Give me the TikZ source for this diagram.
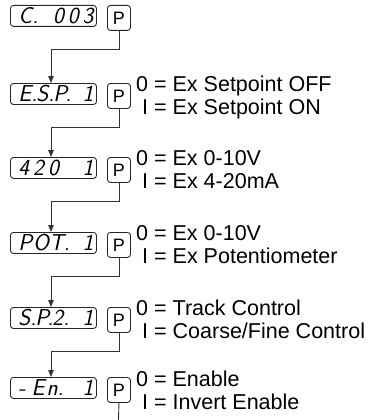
\documentclass[tikz,border=0pt]{standalone}
\usepackage{fontspec}
\setmainfont{Liberation Sans}
\usetikzlibrary{arrows.meta}
\tikzset{
  disp/.style={draw=black!85, rounded corners=3pt, line width=0.9pt, minimum width=86pt, minimum height=21pt, inner sep=0pt, anchor=north west, font=\fontsize{23}{23}\selectfont\sffamily\itshape},
  pkey/.style={draw=black!85, rounded corners=3pt, line width=0.9pt, minimum width=23pt, minimum height=25pt, inner sep=0pt, anchor=north west, font=\fontsize{18}{18}\selectfont},
  conn/.style={line width=0.9pt, draw=black!80},
  arr/.style={conn, -{Triangle[length=7pt,width=5.5pt]}},
  lbl/.style={anchor=base west, inner sep=0pt, font=\fontsize{21.5}{21.5}\selectfont}
}
\newcommand{\dtext}[1]{\hspace*{5pt}\makebox[75pt][l]{#1}}
\begin{document}
\begin{tikzpicture}[x=1pt,y=-1pt]
\useasboundingbox (0,0) rectangle (372,420);
% row 1
\node[disp] (d1) at (10,5) {\dtext{C.\hfill 0\kern4pt0\kern4pt3}};
\node[pkey] (p1) at (107,5) {P};
% row 2
\node[disp] (d2) at (10,83) {\dtext{E.\kern-1pt S.\kern-1pt P.\hfill 1}};
\node[pkey] (p2) at (107,83) {P};
\node[lbl] (l2a) at (136,91) {0 = Ex Setpoint OFF};
\node[lbl] (l2b) at (142,114) {I = Ex Setpoint ON};
% row 3
\node[disp] (d3) at (10,157) {\dtext{4\kern4pt2\kern4pt0\hfill 1}};
\node[pkey] (p3) at (107,157) {P};
\node[lbl] (l3a) at (136,165) {0 = Ex 0-10V};
\node[lbl] (l3b) at (142,188) {I = Ex 4-20mA};
% row 4
\node[disp] (d4) at (10,232) {\dtext{P\kern1pt O\kern0pt T.\hfill 1}};
\node[pkey] (p4) at (107,232) {P};
\node[lbl] (l4a) at (136,240) {0 = Ex 0-10V};
\node[lbl] (l4b) at (142,263) {I = Ex Potentiometer};
% row 5
\node[disp] (d5) at (10,307) {\dtext{S.\kern-1pt P.\kern-1pt 2.\hfill 1}};
\node[pkey] (p5) at (107,307) {P};
\node[lbl] (l5a) at (136,315) {0 = Track Control};
\node[lbl] (l5b) at (142,338) {I = Coarse/Fine Control};
% row 6
\node[disp] (d6) at (10,377) {\dtext{-\kern6pt E\kern2pt n.\hfill 1}};
\node[pkey] (p6) at (107,377) {P};
\node[lbl] (l6a) at (136,386) {0 = Enable};
\node[lbl] (l6b) at (142,409) {I = Invert Enable};
% entry points
\coordinate (in2) at (51,83);
\coordinate (in3) at (51,157);
\coordinate (in4) at (51,232);
\coordinate (in5) at (51,307);
\coordinate (in6) at (51,377);
\coordinate (end6) at (118.5,420);
% connectors
\draw[arr] (p1.south) -- ++(0,19) -| (in2);
\draw[arr] (p2.south) -- ++(0,19) -| (in3);
\draw[arr] (p3.south) -- ++(0,19) -| (in4);
\draw[arr] (p4.south) -- ++(0,19) -| (in5);
\draw[arr] (p5.south) -- ++(0,19) -| (in6);
\draw[conn] (p6.south) -- (end6);
\end{tikzpicture}
\end{document}
